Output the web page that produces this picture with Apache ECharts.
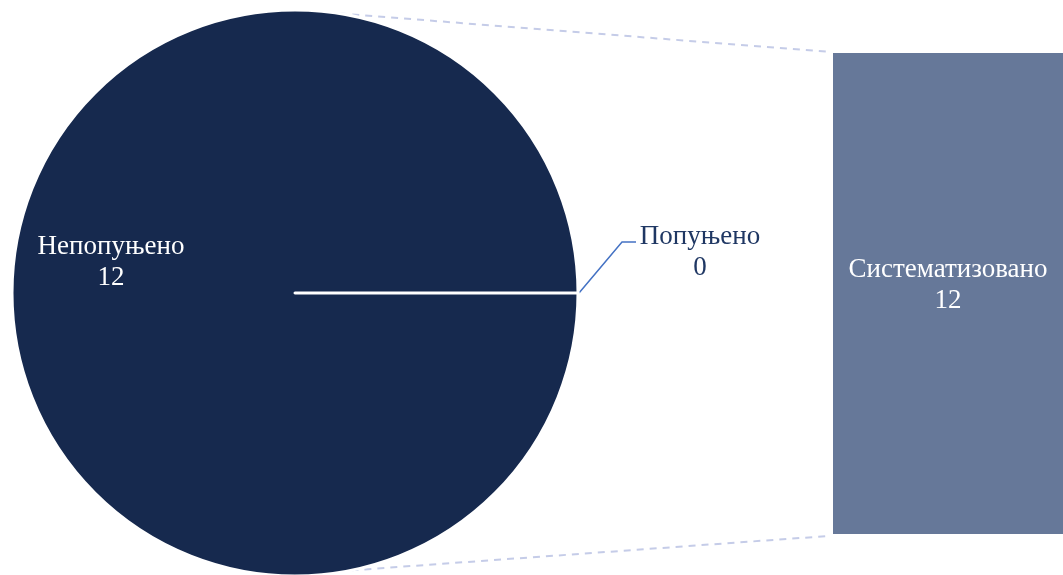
<!DOCTYPE html>
<html>
<head>
<meta charset="utf-8">
<script src="https://cdn.jsdelivr.net/npm/echarts@6/dist/echarts.min.js"></script>
<style>
html,body{margin:0;padding:0;background:#fff;}
#c{width:1063px;height:575px;}
</style>
</head>
<body>
<div id="c"></div>
<script>
// Pie data (order: zero slice first so it sits at 0°)
const pieNames = ['Попуњено', 'Непопуњено'];
const pieValues = [0, 12];
// Bar data
const barNames = ['Систематизовано'];
const barValues = [12];

const FONT = '"Liberation Serif", "Times New Roman", serif';
const PIE_CX = 295, PIE_CY = 293, PIE_R = 283;

const chart = echarts.init(document.getElementById('c'), null, {renderer: 'canvas'});

const option = {
  backgroundColor: '#ffffff',
  animation: false,
  grid: {left: 833, right: 0, top: 53, bottom: 41},
  xAxis: {type: 'category', data: barNames, show: false},
  yAxis: {type: 'value', min: 0, max: 12, show: false},
  series: [
    {
      type: 'pie',
      center: [PIE_CX, PIE_CY],
      radius: PIE_R,
      startAngle: 0,
      clockwise: true,
      minAngle: 0.02,
      avoidLabelOverlap: false,
      data: pieNames.map((n, i) => ({
        name: n,
        value: pieValues[i],
        itemStyle: {color: i === 1 ? '#16294e' : '#ffffff'},
        label: i === 1 ? {
          position: 'inner',
          color: '#ffffff'
        } : {
          position: 'outside',
          color: '#1f3763'
        },
        labelLine: i === 1 ? {show: false} : {
          show: true, length: 30, length2: 14,
          lineStyle: {color: '#4472c4', width: 1.5}
        }
      })),
      itemStyle: {borderColor: '#ffffff', borderWidth: 3},
      label: {
        formatter: '{b}\n{c}',
        fontFamily: FONT,
        fontSize: 27,
        lineHeight: 31,
        align: 'center'
      },
      labelLayout: function (p) {
        if (p.dataIndex === 1) {
          return {x: PIE_CX - 184, y: PIE_CY - 31, align: 'center', verticalAlign: 'middle'};
        }
        const ex = PIE_CX + PIE_R, ey = PIE_CY;
        return {
          x: ex + 122, y: ey - 41, align: 'center', verticalAlign: 'middle',
          labelLinePoints: [[ex + 1, ey], [ex + 44, ey - 51], [ex + 58, ey - 51]]
        };
      },
      emphasis: {disabled: true}
    },
    {
      type: 'bar',
      data: barValues,
      barWidth: '100%',
      itemStyle: {color: '#667899'},
      label: {
        show: true,
        position: 'inside',
        formatter: '{b}\n{c}',
        fontFamily: FONT,
        fontSize: 27,
        lineHeight: 31,
        color: '#ffffff',
        offset: [0, -8]
      },
      emphasis: {disabled: true}
    }
  ]
};
chart.setOption(option);

// Connector dashed lines from pie edge to bar corners
const aTop = 81 * Math.PI / 180;
const aBot = 78.5 * Math.PI / 180;
const topPie = [PIE_CX + PIE_R * Math.cos(aTop), PIE_CY - PIE_R * Math.sin(aTop)];
const botPie = [PIE_CX + PIE_R * Math.cos(aBot), PIE_CY + PIE_R * Math.sin(aBot)];
const barTop = chart.convertToPixel({xAxisIndex: 0, yAxisIndex: 0}, [0, barValues[0]]);
const barBot = chart.convertToPixel({xAxisIndex: 0, yAxisIndex: 0}, [0, 0]);
const barLeft = 833;
const dashStyle = {stroke: '#c5cce8', lineWidth: 2, lineDash: [7, 6]};
chart.setOption({
  graphic: [
    {type: 'line', silent: true, z: -1, shape: {x1: topPie[0], y1: topPie[1], x2: barLeft - 2, y2: barTop[1] - 1}, style: dashStyle},
    {type: 'line', silent: true, z: -1, shape: {x1: botPie[0], y1: botPie[1], x2: barLeft - 5, y2: barBot[1] + 2}, style: dashStyle}
  ]
});
</script>
</body>
</html>
